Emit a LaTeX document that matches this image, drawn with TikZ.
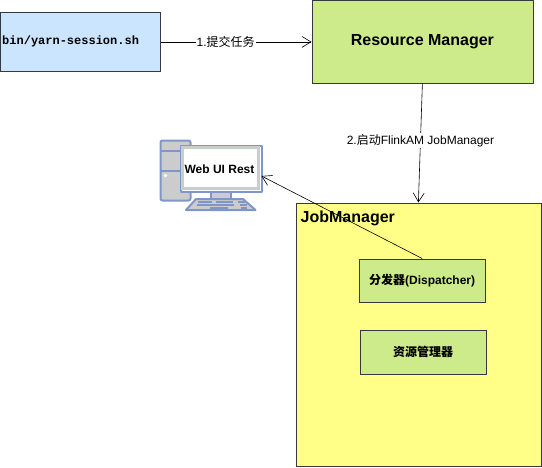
\documentclass[tikz,border=0pt]{standalone}
\usepackage{fontspec}
\usepackage{xcolor}
\usepackage{tikz}
\usetikzlibrary{arrows.meta}
\setmainfont{Liberation Sans}
\setmonofont{Liberation Mono}
\newfontfamily\cjk{Noto Sans CJK SC}
\definecolor{edge}{HTML}{36393D}
\definecolor{bluefill}{HTML}{CCE5FF}
\definecolor{greenfill}{HTML}{CDEB8B}
\definecolor{yellowfill}{HTML}{FFFF88}
\definecolor{iconline}{HTML}{7F97C8}
\definecolor{icongray}{HTML}{CCCCCC}
\tikzset{
  box/.style={draw=edge, line width=0.8pt, minimum width=#1, inner sep=0pt, anchor=north west},
  flow/.style={draw=black, line width=0.6pt, -{Straight Barb[length=9pt,width=11pt,line width=0.6pt]}},
  flowlab/.style={fill=white, inner sep=1pt, font=\fontsize{12}{14}\selectfont},
  subbox/.style={box=126.5pt, fill=greenfill, minimum height=43.5pt, font=\fontsize{12}{14}\selectfont\bfseries},
  icon/.style={draw=iconline, line width=2pt, line join=round, fill=icongray},
  iconkey/.style={draw=iconline, line width=1.5pt},
}
\begin{document}
\begin{tikzpicture}[x=1pt,y=-1pt]
  \useasboundingbox (0,0) rectangle (542,467);
  % top row
  \node[box=160pt, fill=bluefill, minimum height=59pt, align=left] (script) at (0,12) {};
  \node[anchor=west, inner sep=0pt, font=\fontsize{12}{14}\selectfont\ttfamily\bfseries] (scriptlab) at (2,41.5) {bin/yarn-session.sh};
  \node[box=221pt, fill=greenfill, minimum height=83pt, font=\fontsize{16}{18}\selectfont\bfseries] (rm) at (311.5,-0.5) {\raisebox{-1pt}{Resource Manager}};
  % job manager
  \node[box=245pt, fill=yellowfill, minimum height=263pt] (jm) at (295.5,202.5) {};
  \node[anchor=west, inner sep=0pt, font=\fontsize{16}{18}\selectfont\bfseries] (jmlab) at (300.5,218) {JobManager};
  \node[subbox] (disp) at (358.5,258.5) {{\cjk 分发器}(Dispatcher)};
  \node[subbox] (res) at (359.5,330) {\cjk 资源管理器};
  % computer icon
  \draw[icon, rounded corners=2pt] (160.5,140.5) rectangle (190.5,200.5);
  \draw[iconline, line width=2pt] (160.5,150.5) -- (190.5,150.5) (160.5,170.5) -- (190.5,170.5);
  \fill[white] (165.5,175.5) circle (1.8pt);
  \draw[icon] (210.5,191) rectangle (231,199);
  \draw[icon] (196,199) -- (243,199) -- (255.5,210) -- (186,210) -- cycle;
  \draw[iconkey] (198,202) -- (212,202) (216,202) -- (233,202) (238,202) -- (245,202)
    (197,205) -- (234,205) (240,205) -- (247,205) (210,208) -- (228,208) (241,208) -- (247,208);
  \node[icon, fill=white, inner sep=0pt, minimum width=81pt, minimum height=46pt, anchor=north west, font=\fontsize{12}{14}\selectfont\bfseries] (web) at (180,145) {\hspace*{-4pt}Web UI Rest};
  \draw[icongray, line width=2.2pt] (182.5,147.5) rectangle (258.5,188.5);
  \coordinate (webin) at (261.5,176);
  % connectors
  \draw[flow] (script.east) -- node[flowlab, pos=0.43] {1.{\cjk 提交任务}} (rm.west |- script.east);
  \draw[flow] (rm.south) -- node[flowlab, pos=0.48] {2.{\cjk 启动}FlinkAM JobManager} (jm.north);
  \draw[flow] (disp.north) -- (webin);
\end{tikzpicture}
\end{document}
